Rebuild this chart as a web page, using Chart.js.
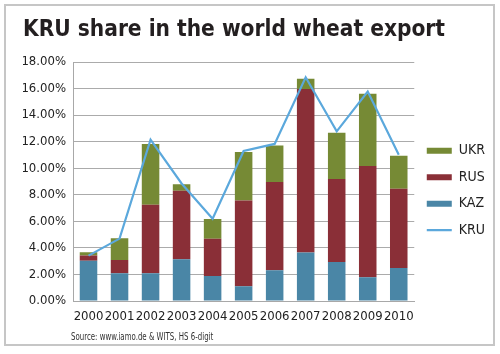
<!DOCTYPE html>
<html>
<head>
<meta charset="utf-8">
<script src="https://cdn.jsdelivr.net/npm/chart.js@4/dist/chart.umd.min.js"></script>
<style>
  html, body { margin: 0; padding: 0; background: #fff; }
  #wrap { position: relative; width: 500px; height: 354px; overflow: hidden; }
  #frame { position: absolute; left: 4px; top: 4px; width: 491px; height: 342px; box-sizing: border-box; border: 2px solid #c6c6c6; }
  canvas { position: absolute; left: 0; top: 0; }
  #src { position: absolute; left: 71px; top: 331px; font: 10px 'Liberation Sans Narrow', 'DejaVu Sans Condensed', sans-serif; color: #333; transform: scaleX(0.78); transform-origin: 0 0; white-space: nowrap; }
</style>
</head>
<body>
<div id="wrap">
  <div id="frame"></div>
  <canvas id="c" width="500" height="354"></canvas>
  <div id="src">Source: www.iamo.de &amp; WITS, HS 6-digit</div>
</div>
<script>
const years = ['2000','2001','2002','2003','2004','2005','2006','2007','2008','2009','2010'];
const kaz = [3.04, 2.09, 2.09, 3.15, 1.89, 1.11, 2.31, 3.65, 2.94, 1.79, 2.49];
const rus = [0.38, 1.00, 5.16, 5.15, 2.79, 6.46, 6.65, 12.32, 6.24, 8.38, 5.96];
const ukr = [0.25, 1.64, 4.57, 0.50, 1.49, 3.65, 2.76, 0.76, 3.50, 5.43, 2.49];
const kru = [3.42, 4.70, 12.15, 8.85, 6.20, 11.30, 11.83, 16.85, 12.78, 15.77, 11.02];
const yTicks = [0, 2, 4, 6, 8, 10, 12, 14, 16, 18];

const FONT = "'Liberation Sans Narrow', 'DejaVu Sans Condensed', sans-serif";

new Chart(document.getElementById('c'), {
  data: {
    labels: years,
    datasets: [
      { type: 'line', label: 'KRU', data: kru, borderColor: '#5ba8dc', backgroundColor: '#5ba8dc',
        borderWidth: 2.2, pointRadius: 0, pointStyle: 'line', tension: 0, order: 0 },
      { type: 'bar', label: 'KAZ', data: kaz, backgroundColor: '#4a86a6', pointStyle: 'rect', stack: 's', order: 1 },
      { type: 'bar', label: 'RUS', data: rus, backgroundColor: '#8a2f37', pointStyle: 'rect', stack: 's', order: 1 },
      { type: 'bar', label: 'UKR', data: ukr, backgroundColor: '#768a35', pointStyle: 'rect', stack: 's', order: 1 }
    ]
  },
  options: {
    responsive: false,
    animation: false,
    devicePixelRatio: 1,
    layout: { padding: { left: 23, right: 5, top: 0, bottom: 26 } },
    datasets: { bar: { categoryPercentage: 1, barPercentage: 0.565 } },
    scales: {
      x: {
        stacked: true,
        afterFit: (s) => { s.height = 27; },
        grid: { display: false, drawTicks: false },
        border: { display: true, color: '#a8a8a8', width: 1 },
        ticks: { color: '#222', font: { family: FONT, size: 13 }, padding: 8, maxRotation: 0, autoSkip: false }
      },
      y: {
        stacked: true,
        min: 0, max: 18,
        afterBuildTicks: (s) => { s.ticks = yTicks.map(v => ({ value: v })); },
        afterFit: (s) => { s.width = 50; },
        grid: { color: '#ababab', lineWidth: 1, drawTicks: false },
        border: { display: true, color: '#a8a8a8', width: 1 },
        ticks: { color: '#222', font: { family: FONT, size: 13 }, padding: 7,
          callback: (v) => Number(v).toFixed(2) + '%' }
      }
    },
    plugins: {
      title: {
        display: true, text: 'KRU share in the world wheat export', align: 'start',
        color: '#231f20', font: { family: FONT, size: 22.5, weight: 'bold' },
        padding: { top: 17, bottom: 18 }
      },
      legend: {
        position: 'right', align: 'start', reverse: true,
        title: { display: true, text: '', font: { size: 1 }, padding: { top: 130, bottom: 0 } },
        labels: { usePointStyle: true, pointStyleWidth: 25, boxHeight: 6, padding: 12.5,
          color: '#222', font: { family: FONT, size: 14 } }
      },
      tooltip: { enabled: false }
    }
  }
});
</script>
</body>
</html>
